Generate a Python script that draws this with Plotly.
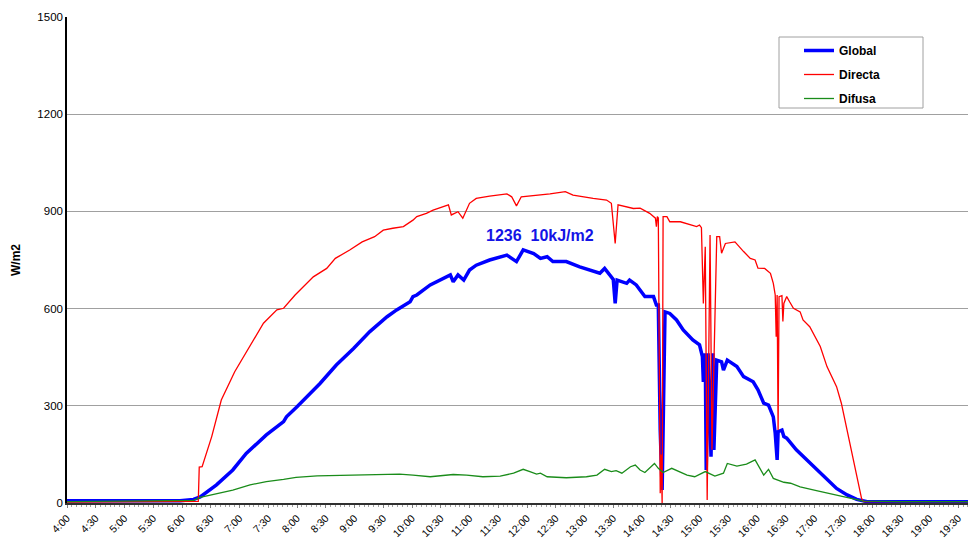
import plotly.graph_objects as go

# ---------------- data ----------------
tick_labels = ["4:00","4:30","5:00","5:30","6:00","6:30","7:00","7:30","8:00","8:30",
               "9:00","9:30","10:00","10:30","11:00","11:30","12:00","12:30","13:00","13:30",
               "14:00","14:30","15:00","15:30","16:00","16:30","17:00","17:30","18:00","18:30",
               "19:00","19:30"]

global_times = ["4:00","5:30","5:58","6:12","6:19","6:36","6:43","6:53","7:07","7:28","7:46","7:49",
                "8:00","8:24","8:41","8:59","9:16","9:34","9:44","9:47","9:58","10:01","10:05","10:19",
                "10:33","10:40","10:43","10:48","10:54","11:00","11:07","11:21","11:39","11:49","11:56",
                "12:07","12:14","12:21","12:27","12:41","12:55","13:09","13:16","13:21","13:28","13:30",
                "13:32","13:34","13:44","13:47","13:54","13:58","14:03","14:12","14:15","14:17","14:19",
                "14:21","14:22","14:24","14:29","14:36","14:43","14:53","15:00","15:03","15:04","15:06",
                "15:07","15:09","15:12","15:14","15:15","15:18","15:23","15:25","15:29","15:39","15:46",
                "15:56","16:01","16:07","16:12","16:17","16:19","16:21","16:22","16:26","16:28","16:31",
                "16:41","16:52","17:02","17:13","17:23","17:34","17:44","17:55","18:30","19:48"]
global_values = [7,6,7,11,19,56,76,102,153,210,251,266,
                 297,369,426,477,529,575,596,601,621,637,642,673,
                 693,704,683,704,688,719,734,750,765,745,781,
                 770,755,760,745,745,729,714,709,724,698,690,
                 616,688,678,688,673,657,637,637,611,611,225,
                 40,225,590,585,565,534,503,488,452,374,462,
                 102,462,143,462,164,441,436,410,441,421,390,
                 374,349,308,302,266,215,133,220,225,205,200,
                 164,133,102,71,45,25,11,4,4,4]

directa_times = ["4:00","5:27","6:16","6:17","6:18","6:21","6:31","6:41","6:55","7:08","7:25","7:39",
                 "7:46","7:58","8:17","8:31","8:40","8:55","9:08","9:21","9:30","9:40","9:51","10:01",
                 "10:05","10:15","10:22","10:38","10:41","10:48","10:53","11:00","11:07","11:21","11:39",
                 "11:44","11:49","11:54","12:14","12:24","12:40","12:48","13:09","13:23","13:28","13:32",
                 "13:35","13:51","13:58","14:08","14:14","14:15","14:16","14:17","14:19","14:20","14:21",
                 "14:22","14:26","14:29","14:40","14:50","14:57","15:00","15:02","15:04","15:06","15:08",
                 "15:11","15:13","15:18","15:21","15:23","15:27","15:37","15:46","15:53","15:58","16:01",
                 "16:08","16:14","16:17","16:19","16:20","16:21","16:22","16:23","16:26","16:27","16:28",
                 "16:31","16:34","16:38","16:45","16:48","16:55","17:06","17:13","17:23","17:28","17:37",
                 "17:44","17:49","17:51","18:30","19:48"]
directa_values = [3,4,3,5,111,112,205,318,405,472,555,596,
                  601,642,698,724,755,781,806,822,842,848,853,873,
                  884,894,904,920,889,899,879,925,940,947,954,
                  945,917,945,950,954,961,950,940,935,925,801,
                  920,909,910,894,879,853,884,880,30,150,0,
                  884,884,868,868,858,853,858,850,616,791,9,
                  827,164,822,822,771,801,806,776,755,750,725,
                  724,709,678,642,513,642,225,637,640,560,616,
                  637,621,601,590,565,544,483,421,359,308,184,
                  92,15,4,4,4]

difusa_times = ["4:00","5:27","6:12","6:19","6:36","6:53","7:11","7:28","7:46","7:59","8:21","8:55",
                "9:30","9:47","10:01","10:12","10:19","10:43","10:57","11:14","11:32","11:46","11:56",
                "12:03","12:10","12:14","12:21","12:41","13:02","13:13","13:21","13:28","13:33","13:39",
                "13:48","13:53","13:58","14:03","14:13","14:17","14:22","14:31","14:47","14:55","15:06",
                "15:16","15:25","15:29","15:39","15:49","15:58","16:07","16:12","16:17","16:28","16:35",
                "16:45","17:02","17:20","17:37","17:51","18:30","19:48"]
difusa_values = [4,6,8,17,28,40,56,66,73,79,84,86,
                 89,89,86,83,81,88,86,81,83,92,104,
                 97,89,92,81,78,81,86,104,97,100,92,
                 112,117,102,94,122,107,94,107,86,81,97,
                 83,92,122,114,120,133,86,104,76,64,61,
                 50,38,27,15,6,4,4]

annotation_text = "1236  10kJ/m2"


def to_dt(t):
    h, m = t.split(":")
    return f"2000-01-01 {int(h):02d}:{m}"


# The page places the figure 8px from the top-left corner; sizes below account for that.
PL, PR, PT, PB = 59, 968, 9, 495   # plot area in figure pixels
PW, PH = PR - PL, PB - PT

fig = go.Figure()
fig.add_trace(go.Scatter(x=[to_dt(t) for t in global_times], y=global_values, mode="lines",
                         name="Global", legendgroup="g", line=dict(color="#0000ff", width=3.5)))
fig.add_trace(go.Scatter(x=[to_dt(t) for t in directa_times], y=directa_values, mode="lines",
                         name="Directa", legendgroup="r", line=dict(color="#ff0000", width=1.3)))
fig.add_trace(go.Scatter(x=[to_dt(t) for t in difusa_times], y=difusa_values, mode="lines",
                         name="Difusa", legendgroup="d", line=dict(color="#1a8c1a", width=1.3)))

fig.add_annotation(x=to_dt("12:14"), y=827, text=f"<b>{annotation_text}</b>", showarrow=False,
                   font=dict(family="Liberation Sans, Arial", size=16, color="#1414e6"))

# legend box (page coords 779..923 x 37..108 -> figure coords minus 8)
fig.add_shape(type="rect", xref="paper", yref="paper",
              x0=(771 - PL) / PW, x1=(915 - PL) / PW,
              y0=(PB - 100) / PH, y1=(PB - 29) / PH,
              line=dict(color="#a0a0a0", width=1), fillcolor="white", layer="below")

tick_vals = [to_dt(t) for t in tick_labels]

fig.update_layout(
    width=968, height=530,
    margin=dict(l=PL, r=968 - PR, t=PT, b=530 - PB, autoexpand=False),
    paper_bgcolor="white", plot_bgcolor="white",
    font=dict(family="Liberation Sans, Arial", size=11, color="black"),
    showlegend=True,
    legend=dict(x=(791 - PL) / PW, y=(PB - 28) / PH, xanchor="left", yanchor="top",
                bgcolor="rgba(0,0,0,0)", borderwidth=0, tracegroupgap=5,
                font=dict(family="Liberation Sans, Arial", size=12, color="black", weight="bold"),
                itemwidth=30),
    xaxis=dict(type="date", range=[to_dt("4:00"), "2000-01-01 19:48:30"], automargin=False,
               tickvals=tick_vals, ticktext=tick_labels, tickangle=-45,
               showgrid=False, zeroline=False,
               showline=True, linecolor="#303030", linewidth=2,
               ticks="outside", ticklen=3, tickcolor="#808080",
               minor=dict(ticks="outside", ticklen=2, tickcolor="#a0a0a0", dtick=5 * 60 * 1000),
               tickfont=dict(size=10.5)),
    yaxis=dict(range=[0, 1500], tickvals=[0, 300, 600, 900, 1200, 1500], automargin=False,
               showgrid=True, gridcolor="#a0a0a0", gridwidth=1,
               zeroline=False, showline=True, linecolor="black", linewidth=1.5,
               ticks="", tickfont=dict(size=11.5),
               title=dict(text="<b>W/m2</b>", font=dict(size=12), standoff=14)),
)

fig.write_html("out.html")
